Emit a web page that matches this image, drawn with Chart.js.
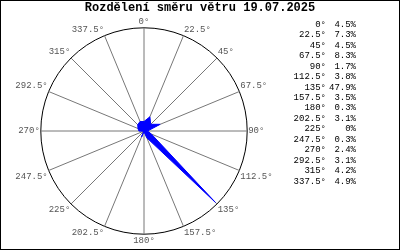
<!DOCTYPE html>
<html>
<head>
<meta charset="utf-8">
<script src="https://cdn.jsdelivr.net/npm/chart.js@4/dist/chart.umd.min.js"></script>
<style>
  body { margin: 0; background: #fff; }
</style>
</head>
<body>
<canvas id="myChart" width="400" height="250"></canvas>
<script>
const directions = ['0°', '22.5°', '45°', '67.5°', '90°', '112.5°', '135°', '157.5°',
    '180°', '202.5°', '225°', '247.5°', '270°', '292.5°', '315°', '337.5°'];
const shares = [4.5, 7.3, 4.5, 8.3, 1.7, 3.8, 47.9, 3.5, 0.3, 3.1, 0, 0.3, 2.4, 3.1, 4.2, 4.9];
const shareLabels = ['4.5%', '7.3%', '4.5%', '8.3%', '1.7%', '3.8%', '47.9%', '3.5%',
    '0.3%', '3.1%', '0%', '0.3%', '2.4%', '3.1%', '4.2%', '4.9%'];
const chartTitle = 'Rozdělení směru větru 19.07.2025';
const scaleMax = 49;

const mono = "'Liberation Mono', 'DejaVu Sans Mono', monospace";

// ramecek, nadpis + tabulka vpravo
const sidePlugin = {
    id: 'side',
    afterDraw(chart) {
        let ctx = chart.ctx;
        ctx.save();
        ctx.strokeStyle = '#000';
        ctx.lineWidth = 1;
        ctx.strokeRect(0.5, 0.5, 399, 249);
        ctx.fillStyle = '#000';
        ctx.textBaseline = 'middle';
        ctx.textAlign = 'center';
        ctx.font = 'bold 12px ' + mono;
        ctx.fillText(chartTitle, 200, 8);
        ctx.font = '9px ' + mono;
        ctx.textAlign = 'right';
        directions.forEach((d, i) => {
            let y = 24.5 + i * 10.45;
            ctx.fillText(d, 326, y);
            ctx.fillText(shareLabels[i], 356, y);
        });
        ctx.restore();
    }
};

var ctx = document.getElementById('myChart').getContext('2d');
var myChart = new Chart(ctx, {
    type: 'radar',
    data: {
        labels: directions,
        datasets: [{
            data: shares,
            backgroundColor: '#0000ff',
            borderColor: '#0000ff',
            borderWidth: 1,
            pointRadius: 0,
            fill: true
        }]
    },
    options: {
        responsive: false,
        animation: false,
        layout: { padding: { left: 0, right: 112, top: 17, bottom: 3 } },
        plugins: {
            legend: { display: false },
            tooltip: { enabled: false }
        },
        scales: {
            r: {
                min: 0,
                max: scaleMax,
                ticks: { display: false, stepSize: scaleMax },
                grid: { circular: true, color: '#000', lineWidth: 1 },
                angleLines: { color: '#777', lineWidth: 1 },
                pointLabels: {
                    color: '#555',
                    padding: 1,
                    font: { family: mono, size: 9 }
                }
            }
        }
    },
    plugins: [sidePlugin]
});
</script>
</body>
</html>
